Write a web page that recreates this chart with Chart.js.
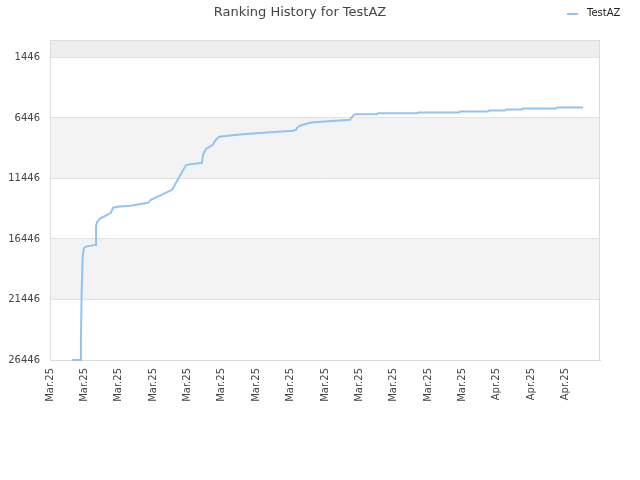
<!DOCTYPE html>
<html>
<head>
<meta charset="utf-8">
<title>Ranking History for TestAZ</title>
<script src="https://cdn.jsdelivr.net/npm/chart.js@4.4.1/dist/chart.umd.min.js"></script>
<style>
  html, body { margin: 0; padding: 0; background: #fff; }
  #wrap { width: 640px; height: 480px; }
</style>
</head>
<body>
<div id="wrap"><canvas id="myChart" width="640" height="480"></canvas></div>
<script>
// x tick labels, one per step of the x scale
const xLabels = ['Mar.25', 'Mar.25', 'Mar.25', 'Mar.25', 'Mar.25', 'Mar.25', 'Mar.25', 'Mar.25',
                 'Mar.25', 'Mar.25', 'Mar.25', 'Mar.25', 'Mar.25', 'Apr.25', 'Apr.25', 'Apr.25'];
const yTicks = [1446, 6446, 11446, 16446, 21446, 26446];

// position along the x scale (tick units) and rank at that position
const rankDay = [0.64, 0.90, 0.90, 0.92, 0.95, 0.98, 1.02, 1.31, 1.34, 1.34, 1.37, 1.45, 1.77, 1.83,
                 1.95, 2.33, 2.85, 2.94, 3.55, 3.96, 4.42, 4.45, 4.54, 4.74, 4.80, 4.92, 5.44, 6.20,
                 7.07, 7.16, 7.19, 7.27, 7.56, 7.88, 8.73, 8.79, 8.87, 9.51, 9.54, 10.68, 10.71, 11.90,
                 11.93, 12.74, 12.77, 13.24, 13.27, 13.73, 13.76, 14.72, 14.75, 15.51];
const rankValue = [26446, 26446, 24709, 20903, 18008, 17264, 17098, 16933, 16933, 15361, 15031, 14782, 14286, 13872,
                   13790, 13707, 13459, 13210, 12383, 10315, 10150, 9488, 8992, 8661, 8330, 7999, 7834, 7668,
                   7503, 7420, 7255, 7089, 6841, 6758, 6593, 6345, 6138, 6138, 6055, 6055, 5989, 5989,
                   5906, 5906, 5824, 5824, 5742, 5742, 5658, 5658, 5576, 5576];

const lineColor = '#92c3f1';
const font = { family: 'DejaVu Sans', size: 10 };

const bandsPlugin = {
    id: 'bands',
    beforeDraw(chart) {
        const {ctx, chartArea: a, scales: {y}} = chart;
        const bands = [[0, yTicks[0], '#eeeeee'], [yTicks[1], yTicks[2], '#f3f3f3'], [yTicks[3], yTicks[4], '#f3f3f3']];
        ctx.save();
        for (const b of bands) {
            const y1 = y.getPixelForValue(b[0]);
            const y2 = y.getPixelForValue(b[1]);
            ctx.fillStyle = b[2];
            ctx.fillRect(a.left, y1, a.right - a.left, y2 - y1);
        }
        ctx.restore();
    },
    beforeDatasetsDraw(chart) {
        const {ctx, chartArea: a} = chart;
        ctx.save();
        ctx.strokeStyle = '#dcdcdc';
        ctx.lineWidth = 1;
        ctx.strokeRect(a.left + 0.5, a.top + 0.5, a.right - a.left - 1, a.bottom - a.top);
        ctx.restore();
    },
    afterDraw(chart) {
        const ctx = chart.ctx;
        ctx.save();
        ctx.strokeStyle = lineColor;
        ctx.lineWidth = 2;
        ctx.beginPath();
        ctx.moveTo(567, 14);
        ctx.lineTo(578, 14);
        ctx.stroke();
        ctx.fillStyle = '#222';
        ctx.font = '10px "DejaVu Sans"';
        ctx.textBaseline = 'middle';
        ctx.fillText(chart.data.datasets[0].label, 587, 13);
        ctx.restore();
    }
};

new Chart(document.getElementById('myChart'), {
    type: 'line',
    data: {
        datasets: [{
            label: 'TestAZ',
            data: rankDay.map((d, i) => ({x: d, y: rankValue[i]})),
            borderColor: lineColor,
            backgroundColor: lineColor,
            borderWidth: 2,
            pointRadius: 0,
            tension: 0,
            clip: false
        }]
    },
    options: {
        responsive: false,
        animation: false,
        layout: { padding: { left: 0, right: 40, top: 0, bottom: 0 } },
        plugins: {
            legend: { display: false },
            tooltip: { enabled: false },
            title: {
                display: true,
                text: 'Ranking History for TestAZ',
                color: '#444',
                font: { family: 'DejaVu Sans', size: 13, weight: 'normal' },
                padding: { top: 5, bottom: 19.4 }
            }
        },
        scales: {
            x: {
                type: 'linear',
                min: 0,
                max: 16,
                afterBuildTicks: s => { s.ticks = xLabels.map((_, i) => ({value: i})); },
                afterFit: s => { s.height = 120; },
                grid: { display: false, drawTicks: false },
                border: { display: true, color: '#dcdcdc' },
                ticks: {
                    autoSkip: false,
                    minRotation: 90,
                    maxRotation: 90,
                    padding: 8,
                    color: '#444',
                    font: font,
                    callback: v => xLabels[v] || ''
                }
            },
            y: {
                type: 'linear',
                reverse: true,
                min: 0,
                max: 26446,
                afterBuildTicks: s => { s.ticks = yTicks.map(v => ({value: v})); },
                afterFit: s => { s.width = 50; },
                grid: { color: '#e2e2e2', drawTicks: false },
                border: { display: true, color: '#dcdcdc' },
                ticks: { padding: 10, color: '#444', font: font, callback: v => String(v) }
            }
        }
    },
    plugins: [bandsPlugin]
});
</script>
</body>
</html>
